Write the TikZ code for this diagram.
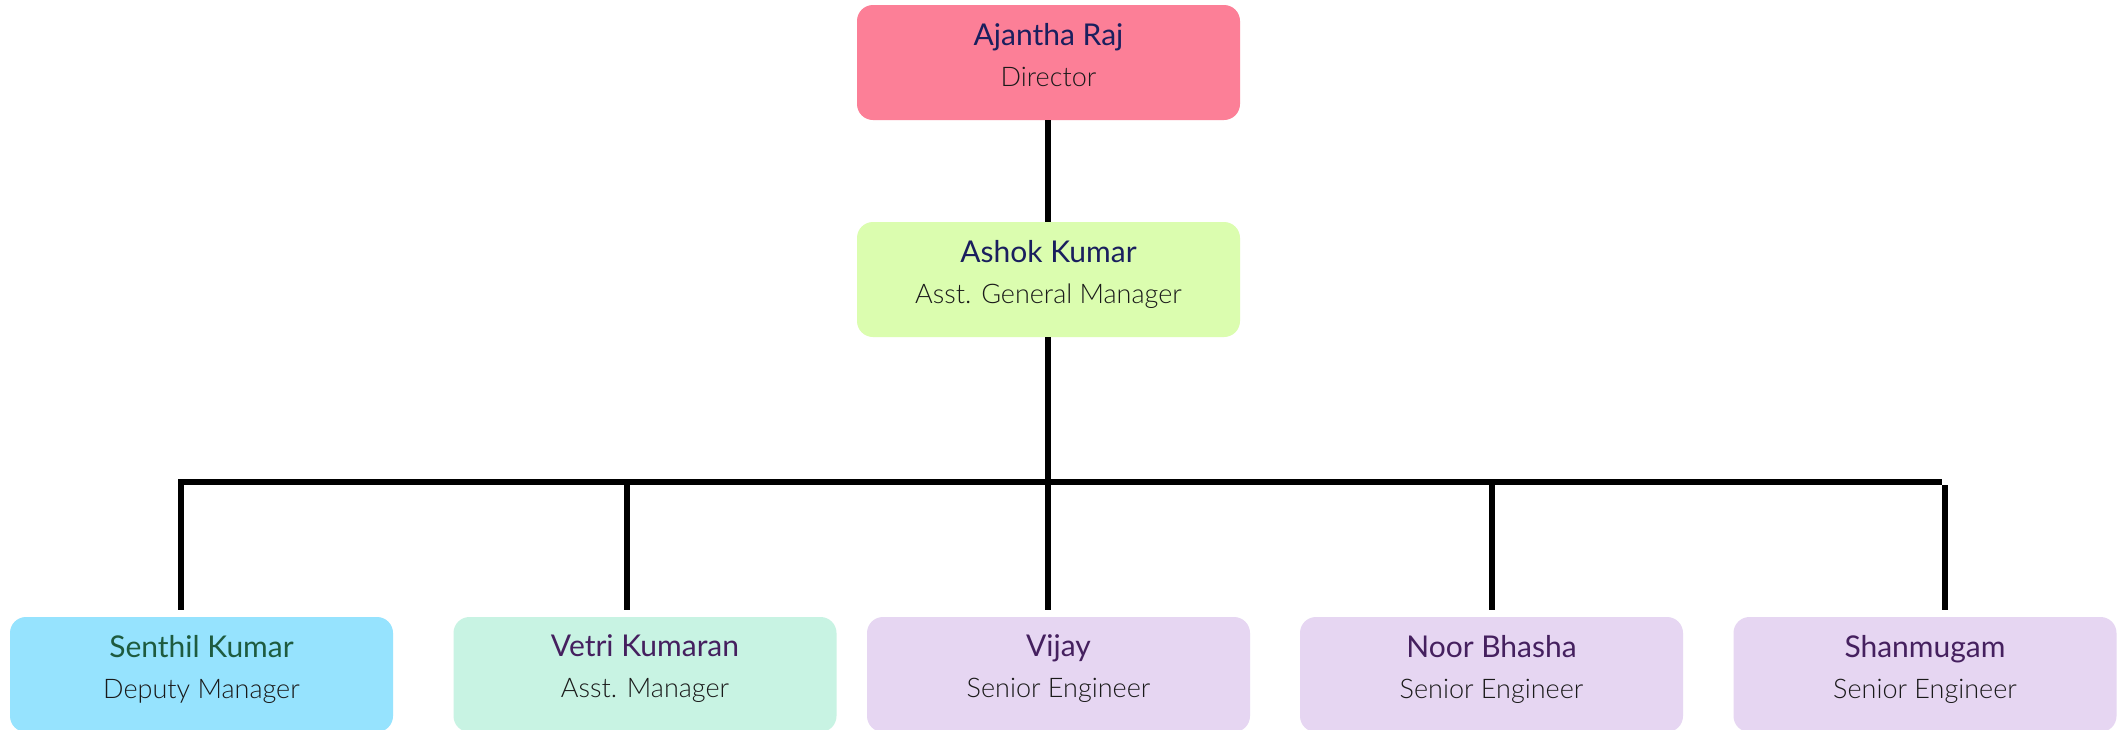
\documentclass[tikz,border=0pt]{standalone}
\usepackage{fontspec}
\setmainfont{Lato}
\newfontfamily\lightfont{Lato Light}
\definecolor{cpink}{HTML}{FC7F97}
\definecolor{cgreen}{HTML}{DBFDAF}
\definecolor{cblue}{HTML}{96E3FE}
\definecolor{cmint}{HTML}{C8F3E3}
\definecolor{cpurple}{HTML}{E6D6F2}
\definecolor{tnavy}{HTML}{1A1F5E}
\definecolor{tgreen}{HTML}{1E5B3F}
\definecolor{tpurple}{HTML}{45205F}
\definecolor{ttitle}{HTML}{1A1A1A}
\newcommand{\nm}[2]{{\rmfamily\color{#1}\fontsize{30}{41}\selectfont #2}}
\begin{document}
\begin{tikzpicture}[x=1pt,y=-1pt,
  personbox/.style={draw=none, rounded corners=16pt, minimum width=383pt, minimum height=115pt,
    inner sep=0pt, align=center, font=\lightfont\fontsize{27}{41}\selectfont, text=ttitle, text depth=16pt},
  link/.style={line width=6pt, black}]
\clip (0,0) rectangle (2118,729);
\fill[white] (0,0) rectangle (2118,729);
\node[personbox, fill=cpink] (dir) at (1048.5,62.5) {\nm{tnavy}{Ajantha Raj}\\Director};
\node[personbox, fill=cgreen] (agm) at (1048.5,279.5) {\nm{tnavy}{Ashok Kumar}\\Asst. General Manager};
\node[personbox, fill=cblue] (sen) at (201.5,674.5) {\nm{tgreen}{Senthil Kumar}\\Deputy Manager};
\node[personbox, fill=cmint] (vet) at (645,674.5) {\nm{tpurple}{Vetri Kumaran}\\Asst. Manager};
\node[personbox, fill=cpurple] (vij) at (1058.5,674.5) {\nm{tpurple}{Vijay}\\Senior Engineer};
\node[personbox, fill=cpurple] (noo) at (1491.5,674.5) {\nm{tpurple}{Noor Bhasha}\\Senior Engineer};
\node[personbox, fill=cpurple] (sha) at (1925,674.5) {\nm{tpurple}{Shanmugam}\\Senior Engineer};
% bus and drops
\coordinate (busL) at (178,482);
\coordinate (busR) at (1942,482);
\coordinate (busM) at (1048,482);
\coordinate (t1) at (181,479); \coordinate (e1) at (181,610);
\coordinate (t2) at (627,479); \coordinate (e2) at (627,610);
\coordinate (t3) at (1048,479); \coordinate (e3) at (1048,610);
\coordinate (t4) at (1492,479); \coordinate (e4) at (1492,610);
\coordinate (t5) at (1945,485); \coordinate (e5) at (1945,610);
\draw[link] (dir.south -| busM) -- (agm.north -| busM);
\draw[link] (agm.south -| busM) -- (busM);
\draw[link] (busL) -- (busR);
\foreach \i in {1,...,5} {\draw[link] (t\i) -- (e\i);}
\end{tikzpicture}
\end{document}
